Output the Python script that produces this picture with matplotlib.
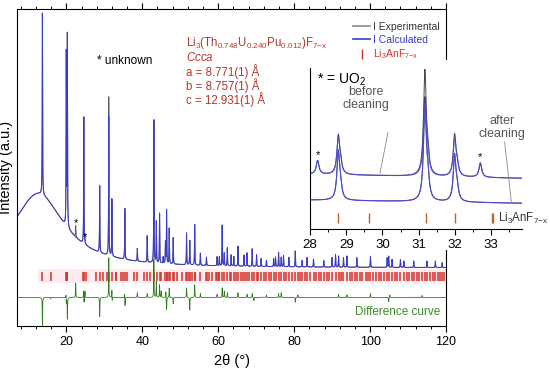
import numpy as np
import matplotlib
matplotlib.use("Agg")
import matplotlib.pyplot as plt
from matplotlib.lines import Line2D
from matplotlib.patches import Rectangle
from matplotlib.ticker import MultipleLocator

plt.rcParams['font.family'] = ['Liberation Sans', 'DejaVu Sans']
plt.rcParams['mathtext.fontset'] = 'custom'
plt.rcParams['mathtext.rm'] = 'Liberation Sans'
plt.rcParams['mathtext.it'] = 'Liberation Sans:italic'

# ---- main pattern: background (level + amorphous hump)
bg_level = 0.183
hump_pos, hump_height, hump_width = 12.6, 0.235, 8.3

# peak positions (2theta) and heights above background, calc / exp
main_pos = [13.69, 19.98, 20.26, 24.60, 28.78, 31.17, 31.99, 35.40, 38.70, 41.30,
            43.05, 43.70, 44.55, 45.50, 46.10, 46.40, 47.10, 48.15, 51.66, 52.50,
            53.80, 55.30, 56.90, 59.70, 60.30, 61.05, 61.60, 62.40, 63.40, 64.10,
            65.20, 66.80, 67.60, 68.95, 70.10, 71.30, 72.70, 74.60, 75.10, 75.90,
            76.60, 77.20, 78.60, 80.30, 82.10, 83.40, 85.10, 87.80, 90.00, 90.90,
            91.70, 93.00, 93.90, 96.50, 100.10, 104.50, 104.90, 105.80, 108.00, 108.90,
            111.50, 115.00, 117.20, 119.00]
main_calc = [0.573, 0.54, 0.60, 0.40, 0.21, 0.44, 0.18, 0.16, 0.04, 0.083,
             0.45, 0.13, 0.157, 0.02, 0.068, 0.168, 0.112, 0.083, 0.10, 0.077,
             0.128, 0.038, 0.026, 0.028, 0.028, 0.128, 0.04, 0.057, 0.035, 0.03,
             0.063, 0.035, 0.042, 0.055, 0.037, 0.025, 0.02, 0.025, 0.03, 0.045,
             0.03, 0.035, 0.03, 0.05, 0.02, 0.03, 0.025, 0.02, 0.03, 0.04,
             0.035, 0.03, 0.035, 0.03, 0.035, 0.03, 0.035, 0.025, 0.025, 0.02,
             0.02, 0.02, 0.02, 0.015]
main_exp = list(main_calc)
main_exp[5] = 0.50
# unknown phase peaks (experimental only)
unk_pos = [22.45, 24.90]
unk_height = [0.035, 0.02]

# Bragg positions Li3AnF7-x
bragg_main = [13.69, 15.85, 19.83, 20.23, 20.27, 24.5, 24.62, 25.3, 27.7, 28.78,
              29.62, 30.8, 31.19, 31.99, 33.03, 33.07, 34.3, 34.9, 35.35, 35.9,
              37.8, 38.7, 40.4, 41.3, 42.0, 43.05, 43.9, 44.55, 44.8, 46.1,
              46.4, 46.6, 47.1, 47.4, 48.15, 48.3, 49.2, 50.5, 51.4, 51.66,
              52.3, 52.5, 53.2, 53.8, 54.0, 55.3, 56.9, 57.1, 57.5, 58.4,
              59.3, 59.7, 60.2, 60.3, 61.05, 61.5, 62.4, 63.0, 63.4, 64.1,
              64.6, 65.2, 65.9, 66.5, 67.0, 67.6, 68.2, 68.95, 69.4, 70.1,
              70.6, 71.3, 72.0, 72.7, 73.3, 74.0, 74.6, 75.1, 75.9, 76.6,
              77.2, 77.9, 78.6, 79.4, 80.3, 81.0, 81.6, 82.1, 82.9, 83.4,
              84.2, 85.1, 85.8, 86.5, 87.2, 87.8, 88.6, 89.3, 90.0, 90.9,
              91.7, 92.4, 93.0, 93.9, 94.6, 95.3, 96.0, 96.5, 97.3, 98.0,
              98.8, 99.5, 100.1, 100.8, 101.6, 102.3, 103.0, 103.7, 104.5, 104.9,
              105.8, 106.5, 107.2, 108.0, 108.9, 109.6, 110.3, 111.0, 111.5, 112.3,
              113.0, 113.7, 114.4, 115.0, 115.8, 116.5, 117.2, 117.9, 118.5, 119.0,
              119.6]

# difference curve spikes
diff_level = 0.09
diff_pos = [13.69, 15.85, 19.90, 20.00, 20.26, 22.45, 24.55, 24.65, 24.90, 28.78,
            31.17, 31.25, 32.00, 32.06, 35.35, 35.45, 38.70, 41.30, 43.05, 43.70,
            44.55, 45.00, 46.20, 46.40, 47.10, 48.15, 51.66, 52.50, 53.80, 55.30,
            59.70, 61.05, 61.60, 62.40, 65.20, 67.60, 68.95, 69.40, 72.70, 75.90,
            76.60, 80.30, 81.00, 91.70, 93.90, 100.10, 104.90, 105.20, 113.70]
diff_amp = [-0.088, -0.005, 0.012, -0.02, -0.068, 0.046, 0.024, -0.02, 0.02, -0.06,
            0.128, -0.01, 0.03, -0.02, 0.015, -0.028, 0.015, 0.012, 0.12, 0.05,
            0.04, 0.02, 0.02, -0.04, 0.03, -0.02, 0.03, -0.04, 0.04, 0.012,
            0.01, 0.03, 0.02, 0.015, 0.015, 0.01, 0.012, -0.01, 0.008, 0.012,
            0.015, -0.015, 0.008, 0.01, 0.008, 0.012, -0.013, 0.008, 0.006]

# ---- inset (28-33.85 deg), before / after cleaning
up_base = (0.34, 0.315)
lo_base = (0.18, 0.16)
up_pos = [28.21, 28.78, 28.84, 31.17, 31.25, 31.99, 32.06, 32.70]
up_calc = [0.085, 0.22, 0.06, 0.47, 0.10, 0.23, 0.06, 0.085]
up_exp = [0.085, 0.23, 0.06, 0.64, 0.10, 0.25, 0.06, 0.09]
lo_pos = [28.78, 28.84, 31.17, 31.25, 31.99, 32.06]
lo_calc = [0.28, 0.07, 0.58, 0.12, 0.27, 0.07]
lo_exp = [0.29, 0.07, 0.62, 0.12, 0.28, 0.07]
bragg_inset = [28.78, 29.62, 31.19, 31.99, 33.02, 33.06]


def profile(x, pos, amp, fwhm):
    y = np.zeros_like(x)
    g = fwhm / 2
    for p, a in zip(pos, amp):
        y += a / (1 + ((x - p) / g) ** 2)
    return y


x = np.arange(7.0, 120.0001, 0.01)
bg = bg_level + hump_height / (1 + ((x - hump_pos) / hump_width) ** 2)
y_calc = bg + profile(x, main_pos, main_calc, 0.1)
y_exp = bg + profile(x, main_pos, main_exp, 0.1) + profile(x, unk_pos, unk_height, 0.12)
y_diff = diff_level + profile(x, diff_pos, diff_amp, 0.1)

c_exp = '#5a5a5a'
c_calc = '#3b3bd0'
c_red = '#d2322a'
c_text = '#b0382c'

fig = plt.figure(figsize=(5.5, 3.71), dpi=100)
ax = fig.add_axes([17/550, 45/371, 429/550, 317/371])
ax.axhspan(0.135, 0.18, xmin=(12.5-7)/113, xmax=1, color='#fdebf1', lw=0, zorder=0)
ax.plot(x, y_exp, color=c_exp, lw=0.7)
ax.plot(x, y_calc, color=c_calc, lw=0.7)
ax.vlines(bragg_main, 0.143, 0.171, color=c_red, lw=1.1)
ax.plot(x, y_diff, color='#2f7d1f', lw=0.6)
ax.set_xlim(7, 120)
ax.set_ylim(0, 1)
ax.set_yticks([])
ax.xaxis.set_major_locator(MultipleLocator(20))
ax.xaxis.set_minor_locator(MultipleLocator(4))
ax.tick_params(axis='x', which='both', direction='out', top=True, labelsize=9)
ax.tick_params(axis='x', which='major', length=4, width=0.8)
ax.tick_params(axis='x', which='minor', length=2.5, width=0.7)
ax.set_xlabel('2θ (°)', fontsize=10.5, labelpad=4)
ax.set_ylabel('Intensity (a.u.)', fontsize=10.5, labelpad=3)

ax.text(22.45, 0.326, '*', fontsize=8, ha='center', va='center')
ax.text(24.9, 0.281, '*', fontsize=8, ha='center', va='center')
ax.text(28.2, 0.836, '* unknown', fontsize=8.5, va='center')

formula = [r'Li$_3$(Th$_{0.748}$U$_{0.240}$Pu$_{0.012}$)F$_{7\mathrm{-x}}$',
           r'$\it{Ccca}$', 'a = 8.771(1) Å', 'b = 8.757(1) Å', 'c = 12.931(1) Å']
for s, yy in zip(formula, [0.893, 0.847, 0.803, 0.759, 0.715]):
    ax.text(51.4, yy, s, fontsize=8.3, color=c_text, va='center')
ax.text(118.4, 0.044, 'Difference curve', fontsize=8.5, color='#3f8a2a',
        ha='right', va='center')

handles = [Line2D([], [], color='#8a8a8a', lw=1.2),
           Line2D([], [], color=c_calc, lw=1.2),
           Line2D([], [], color=c_red, marker='|', ls='none', markersize=7, mew=1)]
ax.legend(handles, ['I Experimental', 'I Calculated', r'Li$_3$AnF$_{7\mathrm{-x}}$'],
          loc='upper left', bbox_to_anchor=(0.772, 0.975), frameon=False,
          fontsize=7.5, handlelength=1.6, handletextpad=0.3, labelspacing=0.25,
          borderpad=0, labelcolor=['#333333', c_calc, c_red])

# white area behind the inset (covers main plot and its right spine)
fig.patches.append(Rectangle((305/550, 121/371), 245/550, 190/371,
                             transform=fig.transFigure, facecolor='white',
                             edgecolor='none', zorder=1))

ins = fig.add_axes([310/550, 142/371, 212/550, 161/371], zorder=2)
xi = np.arange(28.0, 33.85, 0.005)
t = (xi - 28.0) / (33.85 - 28.0)
up_bg = up_base[0] + (up_base[1] - up_base[0]) * t
lo_bg = lo_base[0] + (lo_base[1] - lo_base[0]) * t
ins.plot(xi, up_bg + profile(xi, up_pos, up_exp, 0.09), color='#444455', lw=0.7)
ins.plot(xi, up_bg + profile(xi, up_pos, up_calc, 0.09), color='#4a4ad8', lw=0.8, alpha=0.9)
ins.plot(xi, lo_bg + profile(xi, lo_pos, lo_exp, 0.09), color='#444455', lw=0.7)
ins.plot(xi, lo_bg + profile(xi, lo_pos, lo_calc, 0.09), color='#4a4ad8', lw=0.8, alpha=0.9)
ins.vlines(bragg_inset, 0.036, 0.098, color='#c0602a', lw=1.0)
ins.set_xlim(28, 33.85)
ins.set_ylim(0, 1)
ins.set_yticks([])
for side in ['top', 'right']:
    ins.spines[side].set_visible(False)
ins.xaxis.set_major_locator(MultipleLocator(1))
ins.xaxis.set_minor_locator(MultipleLocator(0.5))
ins.tick_params(axis='x', which='both', direction='out', labelsize=9.5)
ins.tick_params(axis='x', which='major', length=4, width=0.8)
ins.tick_params(axis='x', which='minor', length=2.5, width=0.7)

ins.text(28.18, 0.925, r'* = UO$_2$', fontsize=10, va='center')
ins.text(28.21, 0.46, '*', fontsize=8, ha='center', va='center')
ins.text(32.70, 0.449, '*', fontsize=8, ha='center', va='center')
ins.text(29.54, 0.81, 'before\ncleaning', fontsize=9, color='#555555',
         ha='center', va='center', linespacing=1.1)
ins.text(33.31, 0.633, 'after\ncleaning', fontsize=9, color='#555555',
         ha='center', va='center', linespacing=1.1, clip_on=False)
ins.plot([30.15, 29.93], [0.598, 0.346], color='#888888', lw=0.6)
ins.plot([33.37, 33.56], [0.54, 0.16], color='#888888', lw=0.6)
ins.text(33.2, 0.068, r'Li$_3$AnF$_{7\mathrm{-x}}$', fontsize=8.3, color='#333333',
         va='center', clip_on=False)

fig.savefig('out.png', dpi=100)
